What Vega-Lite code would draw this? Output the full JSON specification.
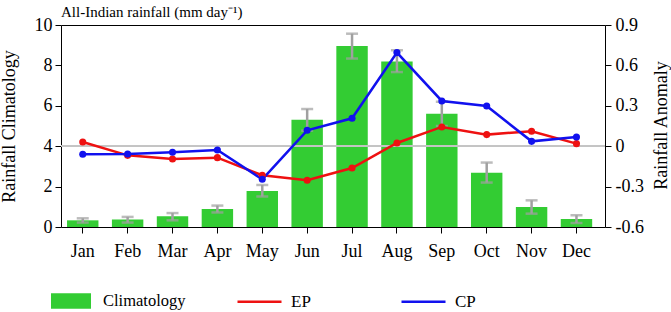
{
  "$schema": "https://vega.github.io/schema/vega-lite/v6.json",
  "width": 544,
  "height": 202,
  "autosize": {"type": "none"},
  "padding": {"left": 61, "top": 25, "right": 66, "bottom": 85},
  "background": "white",
  "config": {
    "font": "Liberation Serif",
    "view": {"stroke": "#000", "strokeWidth": 1},
    "axis": {
      "labelFont": "Liberation Serif",
      "titleFont": "Liberation Serif",
      "labelColor": "#000",
      "titleColor": "#000",
      "domainColor": "#000",
      "tickColor": "#000",
      "grid": false,
      "titleFontWeight": "normal"
    },
    "legend": {"labelFont": "Liberation Serif", "labelColor": "#000"}
  },
  "title": {
    "text": "All-Indian rainfall (mm day⁻¹)",
    "anchor": "start",
    "frame": "group",
    "offset": -4,
    "fontSize": 15,
    "font": "Liberation Serif",
    "fontWeight": "normal",
    "color": "#000"
  },
  "datasets": {
    "clim": [
      {"month": "Jan", "clim": 0.33, "lo": 0.22, "hi": 0.43},
      {"month": "Feb", "clim": 0.37, "lo": 0.22, "hi": 0.5},
      {"month": "Mar", "clim": 0.53, "lo": 0.33, "hi": 0.69},
      {"month": "Apr", "clim": 0.89, "lo": 0.72, "hi": 1.06},
      {"month": "May", "clim": 1.78, "lo": 1.51, "hi": 2.08},
      {"month": "Jun", "clim": 5.31, "lo": 4.77, "hi": 5.84},
      {"month": "Jul", "clim": 8.96, "lo": 8.34, "hi": 9.57},
      {"month": "Aug", "clim": 8.19, "lo": 7.67, "hi": 8.75},
      {"month": "Sep", "clim": 5.61, "lo": 5.0, "hi": 6.2},
      {"month": "Oct", "clim": 2.69, "lo": 2.2, "hi": 3.19},
      {"month": "Nov", "clim": 0.99, "lo": 0.66, "hi": 1.32},
      {"month": "Dec", "clim": 0.4, "lo": 0.2, "hi": 0.58}
    ],
    "anom": [
      {"month": "Jan", "series": "EP", "value": 0.031},
      {"month": "Feb", "series": "EP", "value": -0.068},
      {"month": "Mar", "series": "EP", "value": -0.095},
      {"month": "Apr", "series": "EP", "value": -0.085},
      {"month": "May", "series": "EP", "value": -0.216},
      {"month": "Jun", "series": "EP", "value": -0.253},
      {"month": "Jul", "series": "EP", "value": -0.162},
      {"month": "Aug", "series": "EP", "value": 0.024},
      {"month": "Sep", "series": "EP", "value": 0.143},
      {"month": "Oct", "series": "EP", "value": 0.086},
      {"month": "Nov", "series": "EP", "value": 0.111},
      {"month": "Dec", "series": "EP", "value": 0.019},
      {"month": "Jan", "series": "CP", "value": -0.06},
      {"month": "Feb", "series": "CP", "value": -0.058},
      {"month": "Mar", "series": "CP", "value": -0.045},
      {"month": "Apr", "series": "CP", "value": -0.028},
      {"month": "May", "series": "CP", "value": -0.246},
      {"month": "Jun", "series": "CP", "value": 0.118},
      {"month": "Jul", "series": "CP", "value": 0.207},
      {"month": "Aug", "series": "CP", "value": 0.695},
      {"month": "Sep", "series": "CP", "value": 0.336},
      {"month": "Oct", "series": "CP", "value": 0.298},
      {"month": "Nov", "series": "CP", "value": 0.036},
      {"month": "Dec", "series": "CP", "value": 0.068}
    ]
  },
  "layer": [
    {
      "data": {"name": "clim"},
      "layer": [
        {
          "mark": {"type": "bar"},
          "encoding": {
            "x": {
              "field": "month", "type": "nominal", "sort": null,
              "scale": {"paddingInner": 0.3, "paddingOuter": 0.21, "align": 0.32},
              "axis": {"title": null, "labelAngle": 0, "labelFontSize": 18, "tickSize": 6, "labelPadding": 9, "domain": false}
            },
            "y": {
              "field": "clim", "type": "quantitative",
              "scale": {"domain": [0, 10], "nice": false},
              "axis": {
                "title": "Rainfall Climatology",
                "values": [0, 1, 2, 3, 4, 5, 6, 7, 8, 9, 10],
                "labelExpr": "datum.value % 2 == 0 ? datum.label : ''",
                "tickSize": {"condition": {"test": "datum.value % 2 == 1", "value": 3}, "value": 6},
                "labelFontSize": 18,
                "labelPadding": 3,
                "titleFontSize": 18,
                "titleX": -52,
                "titleY": 101,
                "titleBaseline": "middle",
                "titleAngle": 270,
                "domain": false
              }
            },
            "fill": {
              "datum": "Climatology",
              "scale": {"range": ["#33cc33"]},
              "legend": {
                "orient": "none",
                "legendX": -10,
                "legendY": 256,
                "title": null,
                "symbolType": "M-1,-0.39L1,-0.39L1,0.39L-1,0.39Z",
                "symbolSize": 1600,
                "symbolStrokeWidth": 0,
                "symbolOpacity": 1,
                "labelFont": "Liberation Serif",
                "labelFontSize": 16.5,
                "labelOffset": 12
              }
            }
          }
        },
        {
          "mark": {"type": "rule", "color": "#a0a0a0", "strokeWidth": 2.5},
          "encoding": {
            "x": {"field": "month", "type": "nominal", "sort": null},
            "y": {"field": "lo", "type": "quantitative"},
            "y2": {"field": "hi"}
          }
        },
        {
          "mark": {"type": "tick", "color": "#a0a0a0", "thickness": 2.5, "size": 12, "orient": "horizontal"},
          "encoding": {
            "x": {"field": "month", "type": "nominal", "sort": null},
            "y": {"field": "lo", "type": "quantitative"}
          }
        },
        {
          "mark": {"type": "tick", "color": "#a0a0a0", "thickness": 2.5, "size": 12, "orient": "horizontal"},
          "encoding": {
            "x": {"field": "month", "type": "nominal", "sort": null},
            "y": {"field": "hi", "type": "quantitative"}
          }
        },
        {
          "mark": {"type": "rule", "color": "#c4c4c4", "strokeWidth": 1},
          "encoding": {"y": {"datum": 4, "type": "quantitative"}}
        }
      ]
    },
    {
      "data": {"name": "anom"},
      "layer": [
        {
          "mark": {"type": "line", "strokeWidth": 2.5},
          "encoding": {
            "x": {"field": "month", "type": "nominal", "sort": null},
            "y": {
              "field": "value", "type": "quantitative",
              "scale": {"domain": [-0.6, 0.9], "nice": false},
              "axis": {
                "orient": "right",
                "title": "Rainfall Anomaly",
                "values": [-0.6, -0.45, -0.3, -0.15, 0, 0.15, 0.3, 0.45, 0.6, 0.75, 0.9],
                "labelExpr": "abs(round(datum.value * 100)) % 30 == 0 ? replace(format(datum.value, '.1~f'), '−', '-') : ''",
                "tickSize": {"condition": {"test": "abs(round(datum.value * 100)) % 30 != 0", "value": 3}, "value": 6},
                "labelFontSize": 18,
                "labelPadding": 4,
                "titleFontSize": 18,
                "titleX": 56,
                "titleY": 100,
                "titleBaseline": "middle",
                "titleAngle": 270,
                "domain": false
              }
            },
            "stroke": {
              "field": "series", "type": "nominal",
              "scale": {"domain": ["EP", "CP"], "range": ["#ee1111", "#1111ee"]},
              "legend": {
                "orient": "none",
                "direction": "horizontal",
                "legendX": 175,
                "legendY": 253,
                "title": null,
                "symbolType": "stroke",
                "symbolSize": 1936,
                "symbolStrokeWidth": 2.5,
                "labelFont": "Liberation Serif",
                "labelFontSize": 17,
                "labelOffset": 8,
                "columnPadding": 85
              }
            }
          }
        },
        {
          "mark": {"type": "point", "filled": true, "size": 50, "opacity": 1},
          "encoding": {
            "x": {"field": "month", "type": "nominal", "sort": null},
            "y": {"field": "value", "type": "quantitative"},
            "color": {
              "field": "series", "type": "nominal",
              "scale": {"domain": ["EP", "CP"], "range": ["#ee1111", "#1111ee"]},
              "legend": null
            }
          }
        }
      ]
    }
  ],
  "resolve": {"scale": {"y": "independent"}}
}
